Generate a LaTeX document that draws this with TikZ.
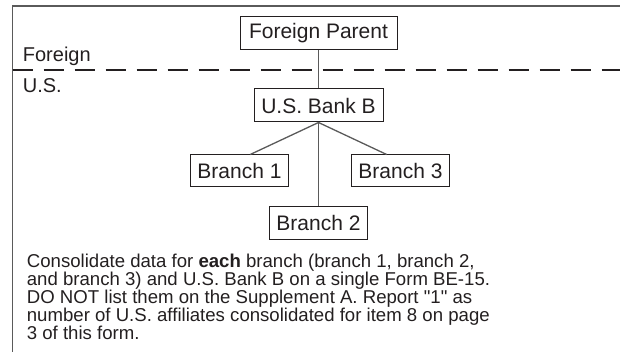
\documentclass[tikz,border=0pt]{standalone}
\usepackage{fontspec}
\setmainfont{Liberation Sans}
\usetikzlibrary{positioning}
\definecolor{inkgray}{HTML}{231F20}
\definecolor{rulegray}{HTML}{5A5A5A}
\tikzset{
  orgbox/.style={draw=inkgray, line width=0.5pt, inner sep=0pt,
    minimum height=16.5pt, align=center, text=inkgray,
    font=\fontsize{10.5}{12}\selectfont},
  branchbox/.style={orgbox, minimum width=49pt, minimum height=16pt},
  link/.style={draw=rulegray, line width=0.65pt},
  border/.style={draw=rulegray, line width=0.75pt},
  divider/.style={draw=inkgray, line width=0.6pt, dash pattern=on 10pt off 5.5pt},
  zonelabel/.style={anchor=base west, inner sep=0pt, text=inkgray,
    font=\fontsize{10}{12}\selectfont},
  notetext/.style={anchor=north west, inner sep=0pt, align=left, text=inkgray,
    font=\fontsize{9.3}{9}\selectfont},
}

\begin{document}
\begin{tikzpicture}[x=0.5pt, y=-0.5pt]
  \useasboundingbox (0,0) rectangle (620,352);

  % Frame
  \draw[border] (620,6) -- (12.5,6) -- (12.5,352);

  % Foreign / U.S. split
  \draw[divider] (12.5,70) -- (620,70);
  \node[zonelabel] (foreign) at (22.5,62) {Foreign};
  \node[zonelabel] (us) at (22.5,93) {U.S.};

  % Parent and bank
  \node[orgbox, minimum width=78.5pt] (parent) at (318.5,33.5) {Foreign Parent};
  \node[orgbox, minimum width=64.5pt, below=19pt of parent] (bank) {U.S. Bank B};

  % Branches
  \node[branchbox, below=16pt of bank.south, xshift=-39.5pt] (br1) {Branch 1};
  \node[branchbox, below=16pt of bank.south, xshift=41pt] (br3) {Branch 3};
  \node[branchbox, below=42pt of bank] (br2) {Branch 2};

  % Links
  \draw[link] (parent) -- (bank);
  \draw[link] (bank.south) -- (br1.57);
  \draw[link] (bank.south) -- (br2);
  \draw[link] (bank.south) -- (br3.130);

  % Note
  \node[notetext] (note) at (26.5,253.5)
    {Consolidate data for \textbf{each} branch (branch 1, branch 2,\\
     and branch 3) and U.S. Bank B on a single Form BE-15.\\
     DO NOT list them on the Supplement A. Report \textquotedbl 1\textquotedbl{} as\\
     number of U.S. affiliates consolidated for item 8 on page\\
     3 of this form.};
\end{tikzpicture}
\end{document}
